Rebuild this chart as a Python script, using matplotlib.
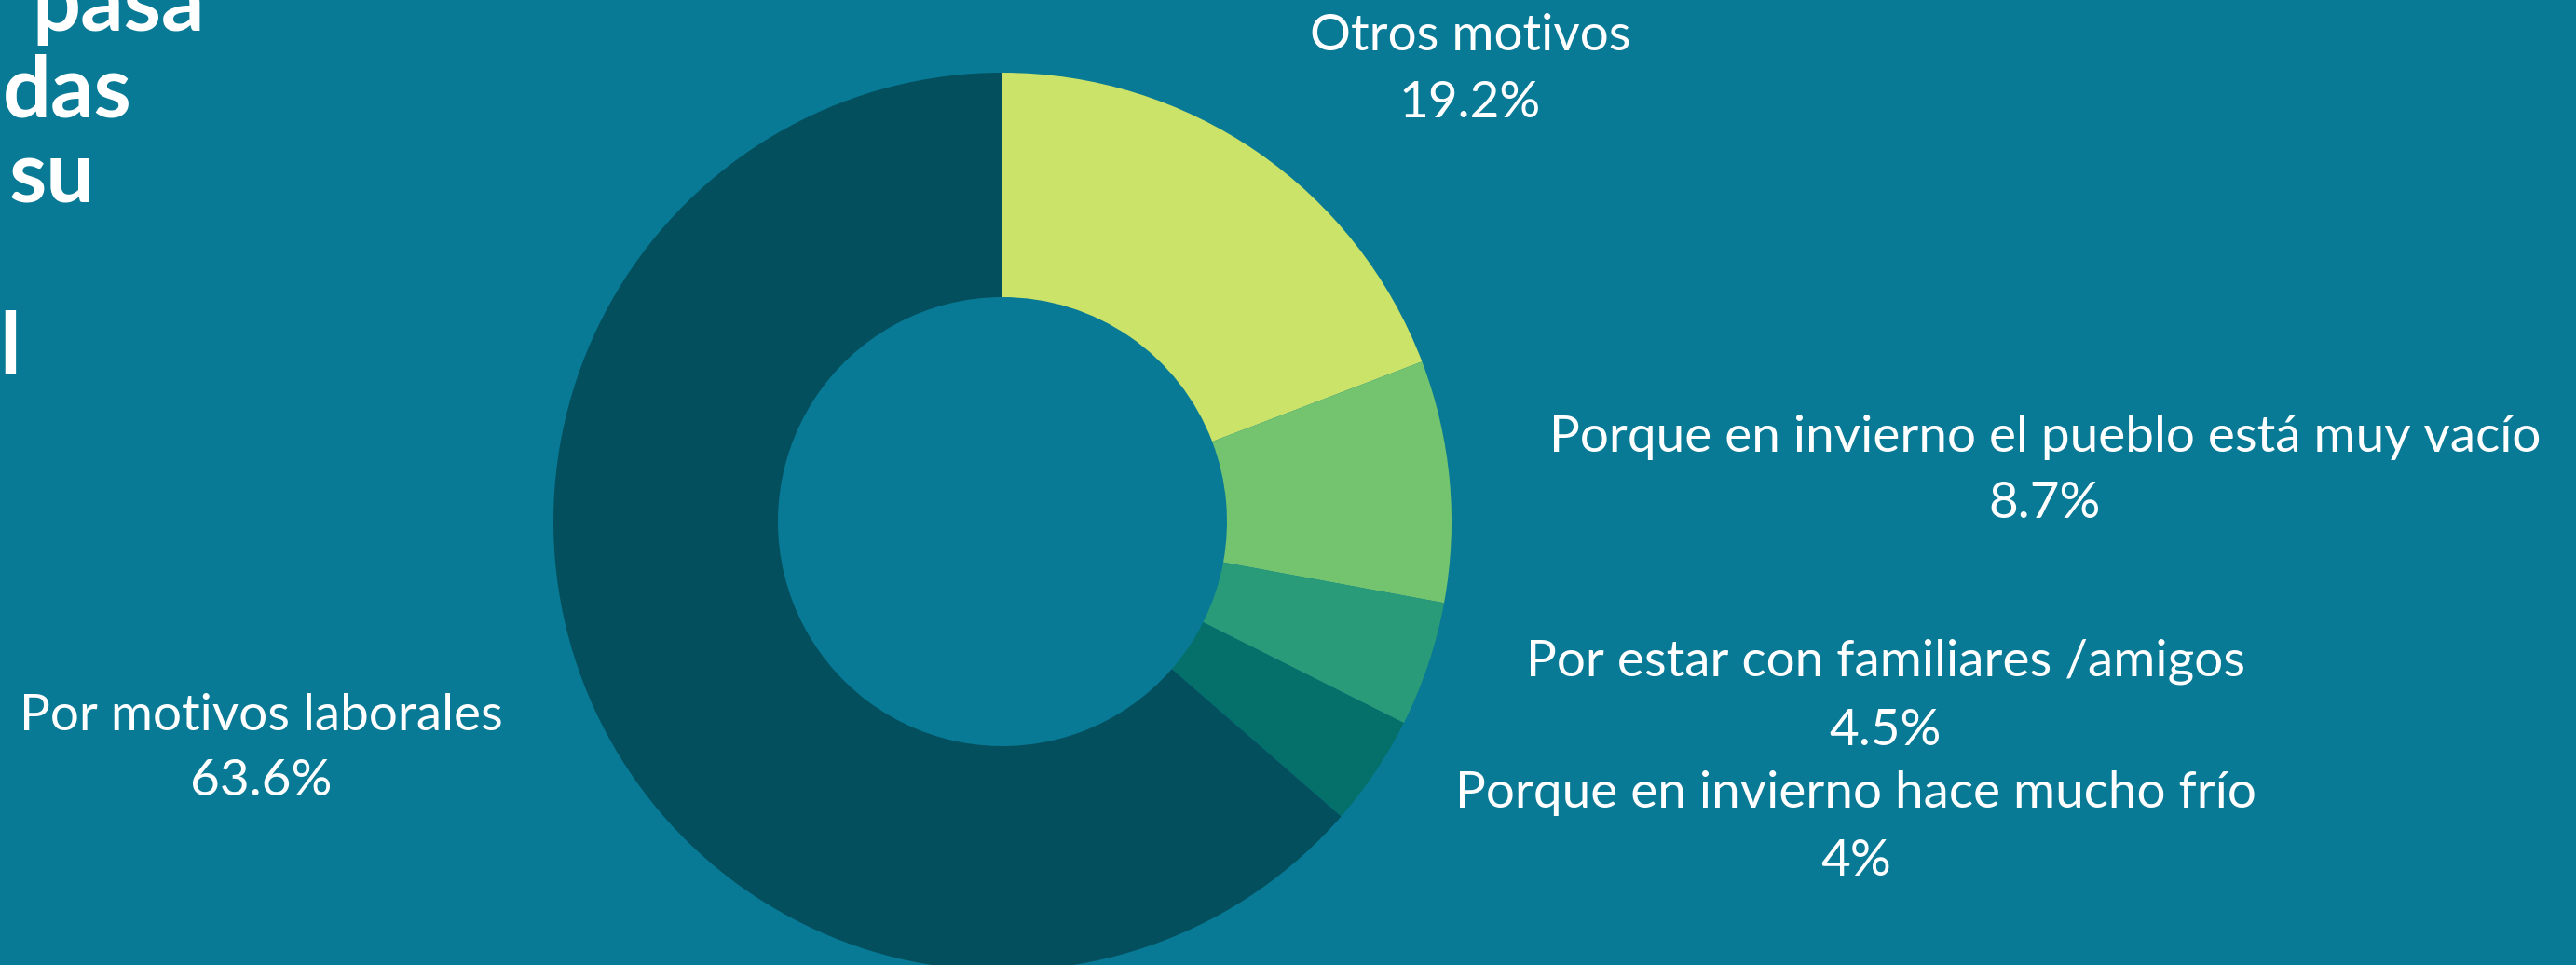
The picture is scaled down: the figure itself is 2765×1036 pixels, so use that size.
import matplotlib
matplotlib.use("Agg")
from matplotlib import pyplot as plt

# data
labels = ["Otros motivos",
          "Porque en invierno el pueblo está muy vacío",
          "Por estar con familiares /amigos",
          "Porque en invierno hace mucho frío",
          "Por motivos laborales"]
values = [19.2, 8.7, 4.5, 4.0, 63.6]
pct_labels = ["19.2%", "8.7%", "4.5%", "4%", "63.6%"]
colors = ["#CAE368", "#74C46F", "#2A9B78", "#05706A", "#044F5D"]
title_bits = ["pasa", "das", "su", "", "l"]

BG = "#087A96"
W, H = 2765, 1036

fig = plt.figure(figsize=(W / 100, H / 100), dpi=100)
fig.patch.set_facecolor(BG)

# donut, centre (1076, 560) px from top-left, radius ~482 px
cx, cy, r = 1076, 560, 482
ax = fig.add_axes([(cx - r) / W, (H - cy - r) / H, 2 * r / W, 2 * r / H])
ax.pie(values, colors=colors, startangle=90, counterclock=False,
       radius=1, wedgeprops=dict(width=0.5, edgecolor="none"))
ax.set_xlim(-1, 1)
ax.set_ylim(-1, 1)
ax.set_aspect("auto")
ax.axis("off")

# label positions (px, top-left origin): centre x, name line y, pct line y
label_pos = [(1578, 38, 110),
             (2195, 470, 541),
             (2024, 710, 784),
             (1992, 852, 924),
             (280, 768, 839)]
font = dict(family="Lato", fontweight="normal", color="white", fontsize=39.5,
            ha="center", va="center")
for lab, pct, (x, y1, y2) in zip(labels, pct_labels, label_pos):
    fig.text(x / W, 1 - y1 / H, lab, **font)
    fig.text(x / W, 1 - y2 / H, pct, **font)

# title, mostly cut off at the left edge
title_right = [220, 142, 102, 0, 22]
for i, (t, xr) in enumerate(zip(title_bits, title_right)):
    if t:
        fig.text(xr / W, 1 - (33 + 92 * i) / H, t, family="Lato",
                 fontweight="bold", color="white", fontsize=66,
                 ha="right", va="baseline")

fig.savefig("out.png", dpi=100, facecolor=BG)
